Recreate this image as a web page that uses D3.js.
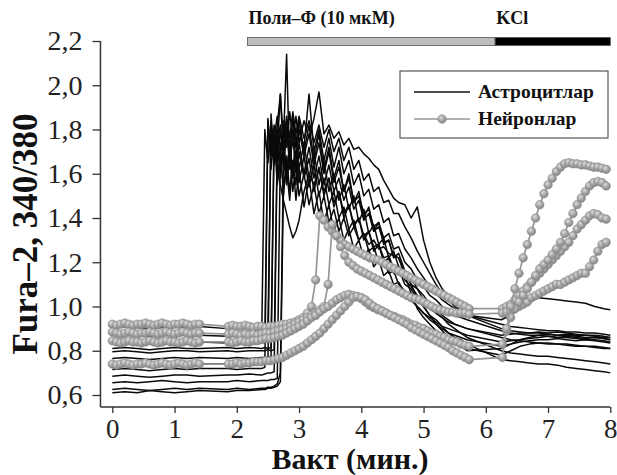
<!DOCTYPE html>
<html><head><meta charset="utf-8">
<script src="https://cdn.jsdelivr.net/npm/d3@7/dist/d3.min.js"></script>
<style>body{margin:0;background:#fff}svg{display:block}</style>
</head><body>
<svg id="chart" width="617" height="475"></svg>
<script>
// ---------- DATA ----------
const xTicks = [0,1,2,3,4,5,6,7,8];
const yTicks = [0.6,0.8,1.0,1.2,1.4,1.6,1.8,2.0,2.2];
const legendLabels = ["Астроцитлар","Нейронлар"];
const treatmentLabels = ["Поли–Ф (10 мкМ)","KCl"];
const treatmentStart = [2.17, 6.15];
const treatmentEnd = [6.15, 8.0];

// astrocyte (black) sampling times, min
const astroTimes = [0,0.2,0.4,0.6,0.8,1.0,1.2,1.4, 1.85,2.0,2.2,2.4,
 2.45,2.5,2.55,2.6,2.65,2.7,2.75,2.8,2.85,2.9,2.95,3.0,
 3.08,3.16,3.24,3.32,3.40,3.48,3.56,3.64,3.72,3.80,3.88,3.96,4.04,4.12,4.20,4.28,4.36,4.44,4.52,4.60,
 4.7,4.8,4.9,5.0,5.1,5.2,5.3,5.4,5.5,5.6,5.7,
 6.25,6.4,6.55,6.7,6.85,7.0,7.15,7.3,7.45,7.6,7.75,7.9,8.0];

const astro1 = [0.61,0.615,0.61,0.62,0.615,0.61,0.615,0.62, 0.615,0.62,0.62,0.625,
 0.625,0.63,0.63,0.635,0.64,0.66,1.55,1.62,1.48,1.66,1.55,1.70,
 1.58,1.67,1.52,1.63,1.50,1.58,1.45,1.52,1.40,1.46,1.36,1.40,1.30,1.34,1.25,1.28,1.20,1.22,1.15,1.17,
 1.10,1.08,1.03,1.0,0.96,0.94,0.91,0.88,0.86,0.85,0.83,
 0.76,0.755,0.75,0.745,0.74,0.74,0.735,0.725,0.72,0.715,0.71,0.705,0.70];
const astro2 = [0.625,0.63,0.625,0.62,0.625,0.63,0.625,0.63, 0.625,0.63,0.625,0.63,
 0.63,0.635,0.635,0.64,0.65,0.70,1.68,1.55,1.75,1.60,1.78,1.62,
 1.74,1.58,1.70,1.55,1.66,1.52,1.60,1.48,1.55,1.44,1.50,1.38,1.44,1.33,1.37,1.28,1.31,1.22,1.25,1.18,
 1.16,1.10,1.08,1.03,1.01,0.97,0.95,0.92,0.90,0.88,0.86,
 0.80,0.79,0.785,0.78,0.775,0.775,0.77,0.765,0.76,0.755,0.75,0.745,0.74];
const astro3 = [0.655,0.66,0.655,0.66,0.665,0.66,0.655,0.66, 0.66,0.665,0.66,0.665,
 0.665,0.665,0.67,0.67,0.675,1.70,1.75,2.14,1.62,1.80,1.66,1.84,
 1.70,1.82,1.66,1.78,1.62,1.72,1.58,1.66,1.52,1.60,1.47,1.52,1.40,1.45,1.34,1.38,1.28,1.30,1.22,1.24,
 1.16,1.13,1.08,1.05,1.01,0.99,0.96,0.94,0.92,0.91,0.90,
 0.86,0.85,0.845,0.84,0.835,0.83,0.83,0.825,0.82,0.82,0.815,0.81,0.81];
const astro4 = [0.685,0.69,0.685,0.68,0.685,0.69,0.69,0.685, 0.69,0.69,0.695,0.69,
 0.695,0.70,0.70,0.705,1.72,1.96,1.68,1.82,1.70,1.86,1.72,1.80,
 1.68,1.78,1.64,1.74,1.60,1.70,1.56,1.63,1.52,1.58,1.47,1.50,1.42,1.44,1.36,1.38,1.31,1.33,1.26,1.27,
 1.20,1.17,1.12,1.09,1.05,1.03,1.0,0.98,0.96,0.95,0.94,
 0.89,0.88,0.875,0.87,0.87,0.865,0.86,0.86,0.855,0.85,0.85,0.845,0.84];
const astro5 = [0.715,0.72,0.715,0.71,0.715,0.72,0.715,0.72, 0.72,0.715,0.72,0.72,
 0.725,1.85,1.62,1.78,1.55,1.72,1.50,1.68,1.52,1.66,1.48,1.62,
 1.45,1.58,1.42,1.52,1.38,1.46,1.34,1.40,1.30,1.35,1.26,1.30,1.22,1.26,1.18,1.21,1.14,1.16,1.10,1.11,
 1.06,1.03,1.0,0.97,0.95,0.93,0.91,0.90,0.89,0.88,0.87,
 0.84,0.845,0.85,0.855,0.86,0.865,0.86,0.865,0.86,0.855,0.86,0.855,0.85];
const astro6 = [0.735,0.74,0.735,0.73,0.735,0.74,0.735,0.74, 0.74,0.735,0.74,0.74,
 0.74,0.745,1.87,1.66,1.80,1.62,1.76,1.60,1.74,1.58,1.70,1.56,
 1.68,1.54,1.64,1.50,1.58,1.46,1.52,1.40,1.45,1.35,1.39,1.30,1.33,1.25,1.27,1.20,1.21,1.15,1.16,1.10,
 1.07,1.03,1.0,0.97,0.94,0.92,0.90,0.88,0.87,0.86,0.85,
 0.82,0.83,0.84,0.845,0.85,0.85,0.855,0.85,0.845,0.85,0.845,0.84,0.835];
const astro7 = [0.765,0.77,0.765,0.76,0.765,0.77,0.765,0.77, 0.765,0.77,0.765,0.77,
 0.77,0.77,0.775,1.80,1.62,1.55,1.48,1.42,1.36,1.31,1.34,1.39,
 1.52,1.60,1.55,1.62,1.52,1.58,1.47,1.52,1.42,1.46,1.37,1.40,1.32,1.34,1.27,1.28,1.22,1.23,1.17,1.18,
 1.12,1.09,1.05,1.02,0.99,0.97,0.95,0.93,0.92,0.91,0.90,
 0.87,0.875,0.88,0.88,0.885,0.88,0.885,0.88,0.875,0.87,0.87,0.865,0.86];
const astro8 = [0.795,0.80,0.795,0.79,0.795,0.80,0.80,0.795, 0.80,0.795,0.80,0.80,
 0.80,0.805,0.80,0.805,1.74,1.82,1.66,1.84,1.70,1.86,1.72,1.80,
 1.72,1.96,1.70,1.80,1.66,1.76,1.63,1.72,1.60,1.66,1.55,1.60,1.50,1.53,1.44,1.46,1.38,1.40,1.32,1.33,
 1.26,1.22,1.17,1.13,1.09,1.06,1.03,1.01,0.99,0.97,0.96,
 0.94,0.96,0.99,1.02,1.04,1.035,1.03,1.025,1.02,1.015,1.0,0.99,0.985];
const astro9 = [0.81,0.815,0.81,0.805,0.81,0.815,0.81,0.81, 0.815,0.81,0.815,0.81,
 0.815,0.81,0.815,1.76,1.86,1.70,1.84,1.72,1.88,1.76,1.86,1.74,
 1.84,1.76,1.85,1.97,1.78,1.82,1.76,1.79,1.73,1.76,1.71,1.72,1.69,1.67,1.64,1.62,1.57,1.53,1.49,1.47,
 1.46,1.40,1.45,1.30,1.20,1.13,1.08,1.04,1.0,0.98,0.96,
 0.90,0.89,0.885,0.88,0.88,0.875,0.87,0.87,0.865,0.86,0.86,0.855,0.85];
const astro10 = [0.835,0.84,0.835,0.83,0.835,0.84,0.835,0.84, 0.835,0.84,0.835,0.84,
 0.84,1.84,1.68,1.82,1.66,1.80,1.64,1.78,1.65,1.76,1.62,1.74,
 1.60,1.72,1.58,1.68,1.55,1.64,1.52,1.58,1.48,1.54,1.44,1.48,1.39,1.42,1.34,1.36,1.29,1.30,1.23,1.22,
 1.15,1.10,1.04,1.0,0.96,0.92,0.89,0.86,0.84,0.82,0.80,
 0.81,0.83,0.85,0.86,0.87,0.875,0.87,0.875,0.87,0.87,0.865,0.86,0.86];
const astro11 = [0.87,0.875,0.87,0.865,0.87,0.875,0.87,0.87, 0.865,0.87,0.875,0.87,
 1.80,1.65,1.84,1.70,1.82,1.96,1.74,1.86,1.76,1.88,1.78,1.86,
 1.76,1.84,1.74,1.82,1.72,1.80,1.70,1.76,1.66,1.72,1.62,1.66,1.57,1.60,1.52,1.54,1.47,1.48,1.42,1.42,
 1.36,1.31,1.25,1.20,1.15,1.10,1.06,1.03,1.0,0.98,0.96,
 0.92,0.91,0.905,0.90,0.895,0.89,0.89,0.885,0.885,0.88,0.88,0.875,0.87];
const astro12 = [0.905,0.91,0.905,0.90,0.905,0.91,0.905,0.91, 0.90,0.905,0.90,0.905,
 0.905,0.91,1.78,1.64,1.76,1.58,1.72,1.56,1.68,1.52,1.64,1.50,
 1.60,1.46,1.55,1.42,1.50,1.38,1.44,1.34,1.40,1.32,1.36,1.30,1.33,1.28,1.30,1.26,1.27,1.24,1.23,1.22,
 1.14,1.06,0.99,0.95,0.92,0.89,0.87,0.85,0.83,0.82,0.81,
 0.78,0.80,0.82,0.83,0.835,0.835,0.83,0.83,0.825,0.82,0.82,0.815,0.81];

// neuron (grey, circles) sampling: one frame every 4 s (1/15 min), frame-index ranges recorded
const neuronFrameRanges = [[0,21],[28,86],[94,119]];
const neuronFrameMin = 1/15;

const neuron1 = [0.92,0.915,0.92,0.925,0.92,0.915,0.92,0.92,0.925,0.92,0.915,0.92,0.925,0.92,0.915,0.92,0.92,0.925,0.92,0.915,0.92,0.92,
 0.91,0.915,0.91,0.91,0.915,0.91,0.905,0.91,0.91,0.905,0.91,0.91,0.915,0.92,0.92,0.925,0.93,0.94,0.95,0.97,
 1.0,1.12,1.41,1.39,1.36,1.34,1.32,1.30,1.28,1.27,1.26,1.25,1.24,1.23,1.22,1.215,1.21,1.20,1.19,1.18,
 1.17,1.16,1.15,1.14,1.13,1.12,1.11,1.10,1.09,1.08,1.07,1.06,1.05,1.04,1.03,1.02,1.01,1.0,0.99,
 0.99,1.0,1.01,1.03,1.05,1.07,1.09,1.11,1.13,1.15,1.17,1.19,1.21,1.23,1.25,1.27,1.29,1.32,1.35,1.37,1.39,1.41,1.42,1.415,1.40,1.395];
const neuron2 = [0.885,0.88,0.875,0.88,0.885,0.88,0.875,0.88,0.88,0.885,0.88,0.875,0.88,0.885,0.88,0.875,0.88,0.885,0.88,0.875,0.88,0.88,
 0.875,0.88,0.875,0.87,0.875,0.87,0.875,0.87,0.875,0.88,0.88,0.885,0.89,0.895,0.90,0.91,0.92,0.93,0.94,0.95,
 0.96,0.97,0.985,1.0,1.10,1.37,1.32,1.27,1.23,1.20,1.185,1.17,1.16,1.15,1.14,1.13,1.12,1.11,1.10,1.09,
 1.08,1.07,1.06,1.05,1.04,1.035,1.03,1.02,1.01,1.0,0.99,0.985,0.98,0.975,0.975,0.97,0.97,0.97,0.965,
 0.97,0.975,0.98,0.99,1.0,1.01,1.02,1.04,1.05,1.06,1.07,1.08,1.09,1.10,1.10,1.11,1.12,1.13,1.14,1.15,1.15,1.18,1.21,1.25,1.28,1.29];
const neuron3 = [0.845,0.84,0.835,0.84,0.845,0.84,0.84,0.835,0.84,0.845,0.84,0.835,0.84,0.845,0.84,0.84,0.835,0.84,0.845,0.84,0.835,0.84,
 0.84,0.835,0.84,0.845,0.84,0.84,0.845,0.845,0.85,0.855,0.855,0.86,0.865,0.87,0.88,0.89,0.90,0.91,0.92,0.935,
 0.95,0.96,0.975,0.99,1.0,1.015,1.03,1.04,1.05,1.055,1.05,1.045,1.035,1.02,1.005,0.995,0.985,0.98,0.97,0.96,
 0.955,0.945,0.94,0.93,0.92,0.915,0.905,0.90,0.89,0.88,0.875,0.865,0.86,0.85,0.845,0.84,0.83,0.825,0.82,
 0.83,0.89,0.95,0.99,1.02,1.05,1.08,1.11,1.14,1.17,1.19,1.21,1.235,1.26,1.29,1.33,1.38,1.42,1.46,1.49,1.52,1.545,1.56,1.565,1.56,1.545];
const neuron4 = [0.74,0.735,0.74,0.745,0.74,0.735,0.74,0.74,0.745,0.74,0.735,0.74,0.745,0.74,0.735,0.74,0.745,0.74,0.735,0.74,0.745,0.74,
 0.74,0.74,0.745,0.74,0.745,0.745,0.75,0.75,0.75,0.755,0.755,0.76,0.765,0.77,0.78,0.79,0.80,0.81,0.82,0.835,
 0.85,0.865,0.88,0.90,0.92,0.94,0.96,0.98,1.0,1.02,1.04,1.045,1.04,1.03,1.015,1.0,0.99,0.98,0.97,0.96,
 0.95,0.94,0.93,0.92,0.905,0.895,0.885,0.875,0.865,0.855,0.845,0.835,0.825,0.815,0.80,0.79,0.78,0.77,0.76,
 0.77,0.90,1.0,1.08,1.15,1.22,1.28,1.34,1.40,1.46,1.51,1.55,1.58,1.61,1.63,1.645,1.65,1.645,1.645,1.64,1.64,1.635,1.63,1.63,1.625,1.62];

const astroSeries = [astro1,astro2,astro3,astro4,astro5,astro6,astro7,astro8,astro9,astro10,astro11,astro12];
const neuronSeries = [neuron1,neuron2,neuron3,neuron4];

// ---------- CHART ----------
const svg = d3.select("#chart");
const serif = "'Liberation Serif', 'Times New Roman', Times, serif";
const x = d3.scaleLinear().domain([0,8]).range([112.3,610.3]);
const y = d3.scaleLinear().domain([0.6,2.2]).range([395,41]);
const xMin = -0.19, yMin = 0.546;

const neuronTimes = neuronFrameRanges.flatMap(([a,b]) => d3.range(a,b+1).map(k => k*neuronFrameMin));

const defs = svg.append("defs");
const grad = defs.append("radialGradient").attr("id","ball").attr("cx","40%").attr("cy","35%").attr("r","65%");
grad.append("stop").attr("offset","0%").attr("stop-color","#dcdcdc");
grad.append("stop").attr("offset","60%").attr("stop-color","#a0a0a0");
grad.append("stop").attr("offset","100%").attr("stop-color","#868686");

const line = d3.line().x(d=>x(d[0])).y(d=>y(d[1]));
const gA = svg.append("g");
astroSeries.forEach(vals => {
  gA.append("path").datum(astroTimes.map((t,i)=>[t,vals[i]]))
    .attr("d",line).attr("fill","none").attr("stroke","#0a0a0a").attr("stroke-width",1.5).attr("stroke-linejoin","round");
});

const gN = svg.append("g");
neuronSeries.forEach(vals => {
  const pts = neuronTimes.map((t,i)=>[t,vals[i]]);
  gN.append("path").datum(pts).attr("d",line).attr("fill","none").attr("stroke","#979797").attr("stroke-width",1.7);
  gN.append("g").selectAll("circle").data(pts).join("circle")
    .attr("cx",d=>x(d[0])).attr("cy",d=>y(d[1])).attr("r",4.3)
    .attr("fill","url(#ball)").attr("stroke","#858585").attr("stroke-width",0.5);
});

// axes
const axisColor = "#333";
const gx = svg.append("g").attr("transform",`translate(0,${y(yMin)})`)
  .call(d3.axisBottom(x).tickValues(xTicks).tickSize(6).tickSizeOuter(0).tickPadding(6).tickFormat(d3.format("d")));
gx.select(".domain").remove();
const gy = svg.append("g").attr("transform",`translate(${x(xMin)},0)`)
  .call(d3.axisLeft(y).tickValues(yTicks).tickSize(8).tickSizeOuter(0).tickPadding(10)
    .tickFormat(d => d3.format(".1f")(d).replace(".",",")));
gy.select(".domain").remove();
[gx,gy].forEach(g=>{
  g.attr("font-family",null).attr("font-size",null);
  g.selectAll(".tick line").attr("stroke",axisColor).attr("stroke-width",1.3);
  g.selectAll(".tick text").style("font-family",serif).style("font-size","28px").attr("fill","#222");
});
gx.selectAll(".tick text").style("font-size","27px");
svg.append("line").attr("x1",x(xMin)).attr("x2",x(8)).attr("y1",y(yMin)).attr("y2",y(yMin))
  .attr("stroke",axisColor).attr("stroke-width",1.5);
svg.append("line").attr("x1",x(xMin)).attr("x2",x(xMin)).attr("y1",y(2.2)).attr("y2",y(yMin))
  .attr("stroke",axisColor).attr("stroke-width",1.5);

// axis titles
svg.append("text").attr("x",350).attr("y",469).attr("text-anchor","middle")
  .style("font-family",serif).style("font-weight","bold").style("font-size","30px").attr("fill","#111").text("Вакт (мин.)");
svg.append("text").attr("transform",`translate(37,234) rotate(-90)`).attr("text-anchor","middle")
  .style("font-family",serif).style("font-weight","bold").style("font-size","35px").attr("fill","#111").text("Fura–2, 340/380");

// treatment bars
const barFill = ["#bdbdbd","#000"];
treatmentStart.forEach((s,i)=>{
  svg.append("rect").attr("x",x(s)).attr("y",37.5).attr("width",x(treatmentEnd[i])-x(s)).attr("height",8)
    .attr("fill",barFill[i]).attr("stroke","#555").attr("stroke-width",0.8);
  svg.append("text").attr("x",x(s)+1).attr("y",24).style("font-family",serif).style("font-weight","bold")
    .style("font-size","18px").attr("fill","#111").text(treatmentLabels[i]);
});

// legend
const lg = svg.append("g");
lg.append("rect").attr("x",400).attr("y",71).attr("width",208).attr("height",67)
  .attr("fill","#fff").attr("stroke","#555").attr("stroke-width",1.2);
lg.append("line").attr("x1",414).attr("x2",470).attr("y1",92).attr("y2",92).attr("stroke","#111").attr("stroke-width",1.6);
lg.append("line").attr("x1",414).attr("x2",470).attr("y1",119).attr("y2",119).attr("stroke","#979797").attr("stroke-width",1.6);
lg.append("circle").attr("cx",442).attr("cy",119).attr("r",4.3).attr("fill","url(#ball)").attr("stroke","#858585").attr("stroke-width",0.5);
legendLabels.forEach((l,i)=>{
  lg.append("text").attr("x",478).attr("y",98+i*27).style("font-family",serif).style("font-weight","bold")
    .style("font-size","19.5px").attr("fill","#111").text(l);
});
</script>
</body></html>
